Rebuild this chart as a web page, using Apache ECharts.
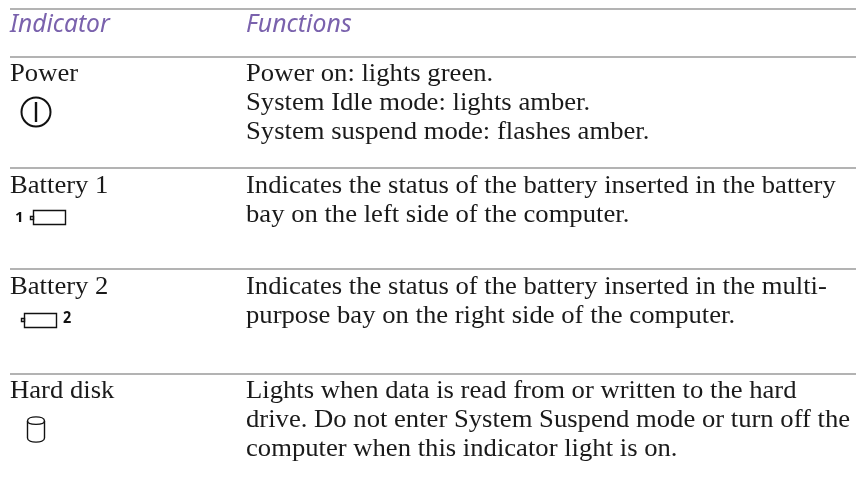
<!DOCTYPE html>
<html>
<head>
<meta charset="utf-8">
<style>html,body{margin:0;padding:0;background:#fff}#main{width:856px;height:482px}</style>
<script src="https://cdn.jsdelivr.net/npm/echarts@6/dist/echarts.min.js"></script>
</head>
<body>
<div id="main"></div>
<script>
var headers = ["Indicator", "Functions"];
var indicators = ["Power", "Battery 1", "Battery 2", "Hard disk"];
var functions = [
	["Power on: lights green.", "System Idle mode: lights amber.", "System suspend mode: flashes amber."],
	["Indicates the status of the battery inserted in the battery", "bay on the left side of the computer."],
	["Indicates the status of the battery inserted in the multi-", "purpose bay on the right side of the computer."],
	["Lights when data is read from or written to the hard", "drive. Do not enter System Suspend mode or turn off the", "computer when this indicator light is on."]
];

var ruleY = [9, 57, 168, 269, 374];
var rowTextY = [74, 186, 287, 391];
var lineStep = 29.2;
var leftX = 10, rightX = 246, endX = 856;
var bodyFont = '"Liberation Serif", serif';
var bodySize = 25.5;
var bodyScale = 1.045;
var els = [];

function txt(x, y, s, font, size, color, style, weight, sx) {
	els.push({
		type: 'text', x: x, y: y, scaleX: sx || 1, silent: true,
		style: {
			text: s, fontFamily: font, fontSize: size, fill: color,
			fontStyle: style || 'normal', fontWeight: weight || 'normal',
			verticalAlign: 'middle', align: 'left'
		}
	});
}
function stroke(shapeType, shape, w) {
	els.push({
		type: shapeType, shape: shape, silent: true,
		style: { stroke: '#111', fill: 'none', lineWidth: w || 1.4 }
	});
}

ruleY.forEach(function (y) {
	els.push({
		type: 'rect', shape: { x: leftX, y: y - 1, width: endX - leftX, height: 2 }, silent: true,
		style: { fill: '#b3b3b3' }
	});
});

txt(leftX, 25, headers[0], '"Noto Sans", sans-serif', 24.6, '#7a62ad', 'italic');
txt(rightX, 25, headers[1], '"Noto Sans", sans-serif', 24.6, '#7a62ad', 'italic', null, 1.01);

indicators.forEach(function (name, i) {
	txt(leftX, rowTextY[i], name, bodyFont, bodySize, '#1a1a1a', null, null, bodyScale);
	functions[i].forEach(function (line, j) {
		txt(rightX, rowTextY[i] + j * lineStep, line, bodyFont, bodySize, '#1a1a1a', null, null, bodyScale);
	});
});

// power icon
stroke('circle', { cx: 36, cy: 112, r: 14.5 }, 2);
stroke('line', { x1: 36, y1: 102, x2: 36, y2: 122 }, 2.4);

// battery 1
txt(15, 218, '1', '"Open Sans", sans-serif', 15, '#111', 'normal', 'bold');
stroke('rect', { x: 33.5, y: 210.5, width: 32, height: 14 });
stroke('rect', { x: 30.5, y: 216.5, width: 3, height: 3 });

// battery 2
stroke('rect', { x: 24.5, y: 313.5, width: 32, height: 14 });
stroke('rect', { x: 21.5, y: 318.5, width: 3, height: 3 });
txt(63, 318, '2', '"Open Sans", sans-serif', 16, '#111', 'normal', 'bold', 0.9);

// hard disk
stroke('bezierCurve', { x1: 27.5, y1: 421, cpx1: 27.5, cpy1: 415.5, cpx2: 44.5, cpy2: 415.5, x2: 44.5, y2: 421 });
stroke('bezierCurve', { x1: 27.5, y1: 421, cpx1: 27.5, cpy1: 425.5, cpx2: 44.5, cpy2: 425.5, x2: 44.5, y2: 421 });
stroke('line', { x1: 27.5, y1: 421, x2: 27.5, y2: 438 });
stroke('line', { x1: 44.5, y1: 421, x2: 44.5, y2: 438 });
stroke('bezierCurve', { x1: 27.5, y1: 438, cpx1: 27.5, cpy1: 443.5, cpx2: 44.5, cpy2: 443.5, x2: 44.5, y2: 438 });

var chart = echarts.init(document.getElementById('main'), null, { renderer: 'canvas' });
chart.setOption({ animation: false, backgroundColor: '#fff', graphic: { elements: els } });
</script>
</body>
</html>
